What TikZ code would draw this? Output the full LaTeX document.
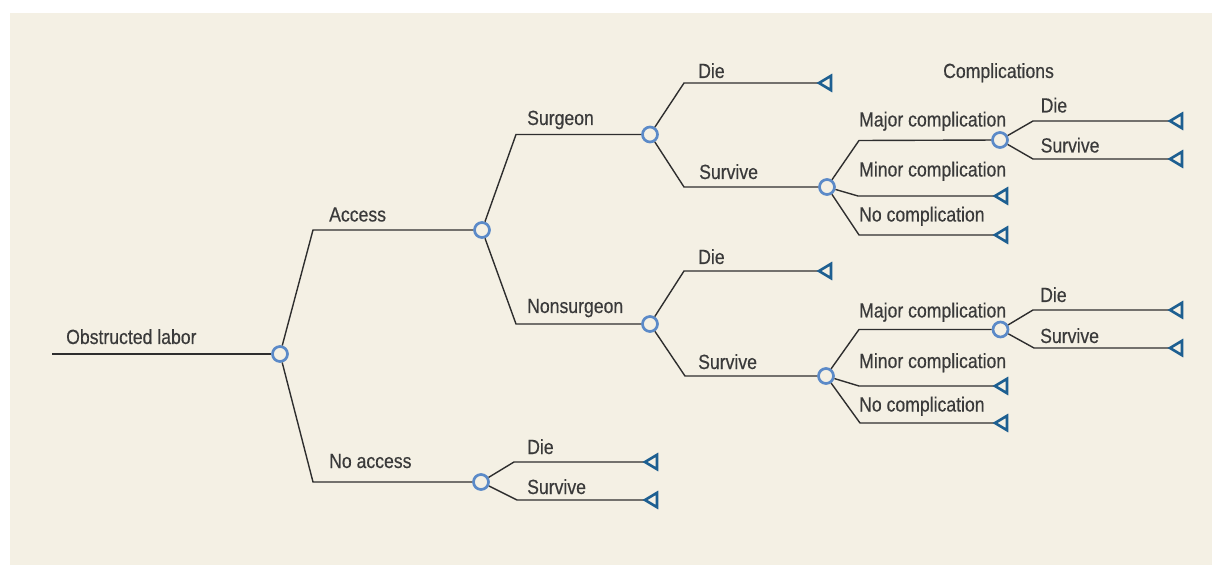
\documentclass[tikz,border=0pt]{standalone}
\usepackage{fontspec}
\setmainfont{Liberation Sans}[FakeStretch=0.86,FakeBold=0.4]
\definecolor{bgc}{HTML}{F4F0E4}
\definecolor{linec}{HTML}{2E2E2E}
\definecolor{circc}{HTML}{5B8AC8}
\definecolor{tric}{HTML}{1D5F91}
\definecolor{txtc}{HTML}{3A3A3A}
\begin{document}
\begin{tikzpicture}[x=1bp,y=-1bp,
  conn/.style={draw=linec, line width=1.4bp},
  chance/.style={circle, draw=circc, fill=bgc, line width=2.7bp, minimum size=15bp, inner sep=0pt},
  lbl/.style={anchor=base west, inner sep=0pt, text=txtc, font=\fontsize{20.5bp}{22bp}\selectfont},
  endtri/.pic={\draw[draw=tric, line width=2.6bp, line join=miter] (0,0) -- (12,-7.2) -- (12,7.2) -- cycle;}
]
\useasboundingbox (0,0) rectangle (1212,565);
\fill[bgc] (10,13) rectangle (1212,565);

% chance nodes
\node[chance] (R) at (280,354) {};
\node[chance] (A) at (482,230) {};
\node[chance] (NA) at (481,482) {};
\node[chance] (S) at (650,134.5) {};
\node[chance] (NS) at (650,324) {};
\node[chance] (SS) at (827,187) {};
\node[chance] (NSS) at (826,376) {};
\node[chance] (MC1) at (1000,140) {};
\node[chance] (MC2) at (1000.5,329.5) {};

% corner coordinates
\coordinate (start) at (52,354);
\coordinate (cA) at (313,230);
\coordinate (cNA) at (313,482);
\coordinate (cS) at (516,134.5);
\coordinate (cNS) at (516,324);
\coordinate (cNAd) at (514,462);
\coordinate (cNAs) at (517,500);
\coordinate (cSd) at (684,83);
\coordinate (cSs) at (684,187);
\coordinate (cNSd) at (684,271);
\coordinate (cNSs) at (685,376);
\coordinate (cSSmaj) at (859,140.5);
\coordinate (cSSmin) at (858,196);
\coordinate (cSSno) at (859,235);
\coordinate (cMC1d) at (1033,121);
\coordinate (cMC1s) at (1033,159);
\coordinate (cNSSmaj) at (859,329.5);
\coordinate (cNSSmin) at (859,386);
\coordinate (cNSSno) at (860,423);
\coordinate (cMC2d) at (1033,310);
\coordinate (cMC2s) at (1034,348);

% terminal tips
\coordinate (tNAd) at (645,462);
\coordinate (tNAs) at (645,500);
\coordinate (tSd) at (819,83);
\coordinate (tNSd) at (819,271);
\coordinate (tSSmin) at (995,196);
\coordinate (tSSno) at (995,235);
\coordinate (tMC1d) at (1170,121);
\coordinate (tMC1s) at (1170,159);
\coordinate (tNSSmin) at (995,386);
\coordinate (tNSSno) at (995,423);
\coordinate (tMC2d) at (1170,310);
\coordinate (tMC2s) at (1170,348);

% connectors
\draw[conn] (start) -- (R);
\draw[conn] (R) -- (cA) -- (A);
\draw[conn] (R) -- (cNA) -- (NA);
\draw[conn] (A) -- (cS) -- (S);
\draw[conn] (A) -- (cNS) -- (NS);
\draw[conn] (NA) -- (cNAd) -- (tNAd);
\draw[conn] (NA) -- (cNAs) -- (tNAs);
\draw[conn] (S) -- (cSd) -- (tSd);
\draw[conn] (S) -- (cSs) -- (SS);
\draw[conn] (NS) -- (cNSd) -- (tNSd);
\draw[conn] (NS) -- (cNSs) -- (NSS);
\draw[conn] (SS) -- (cSSmaj) -- (MC1);
\draw[conn] (SS) -- (cSSmin) -- (tSSmin);
\draw[conn] (SS) -- (cSSno) -- (tSSno);
\draw[conn] (MC1) -- (cMC1d) -- (tMC1d);
\draw[conn] (MC1) -- (cMC1s) -- (tMC1s);
\draw[conn] (NSS) -- (cNSSmaj) -- (MC2);
\draw[conn] (NSS) -- (cNSSmin) -- (tNSSmin);
\draw[conn] (NSS) -- (cNSSno) -- (tNSSno);
\draw[conn] (MC2) -- (cMC2d) -- (tMC2d);
\draw[conn] (MC2) -- (cMC2s) -- (tMC2s);

% terminal triangles
\foreach \t in {tNAd,tNAs,tSd,tNSd,tSSmin,tSSno,tMC1d,tMC1s,tNSSmin,tNSSno,tMC2d,tMC2s}
  \pic at (\t) {endtri};

% labels
\node[lbl] (lObs) at (66,344) {Obstructed labor};
\node[lbl] (lAcc) at (329,221.5) {Access};
\node[lbl] (lNoAcc) at (329,468) {No access};
\node[lbl] (lSurg) at (527,125) {Surgeon};
\node[lbl] (lNonS) at (527,313) {Nonsurgeon};
\node[lbl] (lNAd) at (527,454) {Die};
\node[lbl] (lNAs) at (527,494) {Survive};
\node[lbl] (lSd) at (698,78) {Die};
\node[lbl] (lSs) at (699,179) {Survive};
\node[lbl] (lNSd) at (698,264) {Die};
\node[lbl] (lNSs) at (698,369) {Survive};
\node[lbl] (lSSmaj) at (859,126.5) {Major complication};
\node[lbl] (lSSmin) at (859,176.5) {Minor complication};
\node[lbl] (lSSno) at (859,221.5) {No complication};
\node[lbl] (lMC1d) at (1040.5,112.5) {Die};
\node[lbl] (lMC1s) at (1040.5,152.5) {Survive};
\node[lbl] (lNSSmaj) at (859,317.5) {Major complication};
\node[lbl] (lNSSmin) at (859,368) {Minor complication};
\node[lbl] (lNSSno) at (859,411.5) {No complication};
\node[lbl] (lMC2d) at (1040,302) {Die};
\node[lbl] (lMC2s) at (1040,343) {Survive};
\node[lbl] (lComp) at (943,78) {Complications};
\end{tikzpicture}
\end{document}
